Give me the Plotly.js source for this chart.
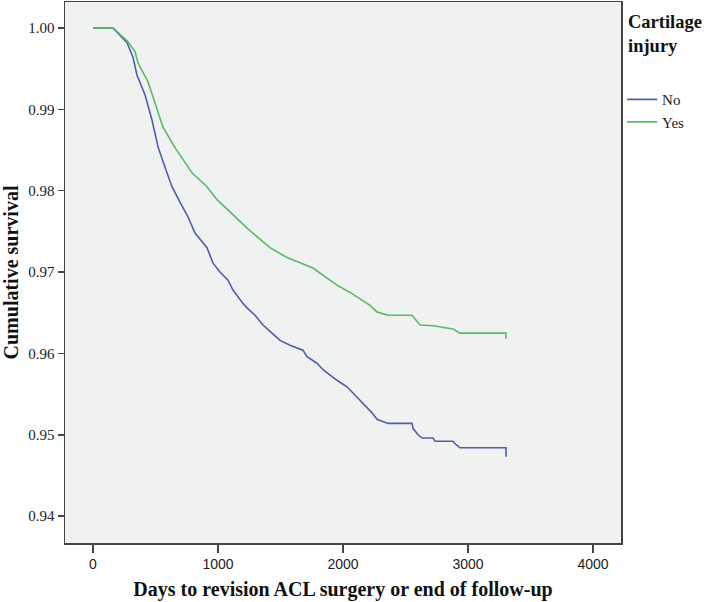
<!DOCTYPE html>
<html>
<head>
<meta charset="utf-8">
<script src="https://cdn.plot.ly/plotly-3.0.1.min.js"></script>
<style>
  body { margin: 0; background: #fff; }
  #km { width: 708px; height: 602px; }
</style>
</head>
<body>
<div id="km"></div>
<script>
// Kaplan-Meier curves, values
var daysNo = [0, 160, 272, 320, 352, 416, 472, 520, 576, 632, 696, 760, 816, 912, 960,
  1016, 1080, 1120, 1192, 1232, 1296, 1360, 1432, 1496, 1576, 1680, 1712, 1792, 1840, 1952,
  2032, 2136, 2192, 2232, 2272, 2360, 2552, 2560, 2600, 2632, 2720, 2736, 2880, 2896, 2936,
  3304, 3304];
var survNo = [1, 1, 0.9982, 0.9964, 0.9942, 0.9918, 0.9887, 0.9854, 0.9829, 0.9805, 0.9786, 0.9768, 0.9748, 0.9730, 0.9711,
  0.9700, 0.9690, 0.9678, 0.9663, 0.9656, 0.9647, 0.9635, 0.9625, 0.9616, 0.9610, 0.9604, 0.9596, 0.9588, 0.9580, 0.9567,
  0.9559, 0.9543, 0.9534, 0.9527, 0.9519, 0.9514, 0.9514, 0.9508, 0.9500, 0.9496, 0.9496, 0.9492, 0.9492, 0.9489, 0.9484,
  0.9484, 0.9473];

var daysYes = [0, 152, 176, 280, 336, 360, 440, 496, 560, 656, 792, 912, 992, 1096, 1232,
  1416, 1552, 1760, 1856, 1952, 2056, 2216, 2272, 2360, 2552, 2616, 2720, 2880, 2936, 3304, 3304];
var survYes = [1, 1, 0.9998, 0.9983, 0.9971, 0.9957, 0.9934, 0.9908, 0.9878, 0.9853, 0.9822, 0.9805, 0.9789, 0.9774, 0.9754,
  0.9730, 0.9718, 0.9705, 0.9694, 0.9684, 0.9675, 0.9659, 0.9651, 0.9647, 0.9647, 0.9635, 0.9634, 0.9630, 0.9625, 0.9625, 0.9618];

var xTicks = [0, 1000, 2000, 3000, 4000];
var yTicks = [0.94, 0.95, 0.96, 0.97, 0.98, 0.99, 1.00];
var yTickText = yTicks.map(function (v) { return v.toFixed(2); });

var serif = 'Liberation Serif, Times New Roman, serif';
var sans = 'Liberation Sans, Arial, sans-serif';

var data = [
  {
    x: daysNo, y: survNo, name: 'No', type: 'scatter', mode: 'lines',
    line: {color: '#4f5fab', width: 1.6}
  },
  {
    x: daysYes, y: survYes, name: 'Yes', type: 'scatter', mode: 'lines',
    line: {color: '#5ab964', width: 1.6}
  }
];

var layout = {
  width: 708, height: 602,
  margin: {l: 65, r: 87, t: 2, b: 59},
  paper_bgcolor: '#ffffff',
  plot_bgcolor: '#f0f1f1',
  showlegend: true,
  legend: {
    x: 1.002, xanchor: 'left', y: 0.85, yanchor: 'top',
    font: {family: serif, size: 15, color: '#222'},
    bgcolor: 'rgba(0,0,0,0)', tracegroupgap: 0
  },
  xaxis: {
    range: [-224, 4224],
    tickvals: xTicks,
    ticks: 'outside', ticklen: 8, tickwidth: 1.5, tickcolor: '#444',
    tickfont: {family: sans, size: 14, color: '#222'},
    showgrid: false, zeroline: false,
    showline: true, linecolor: '#444', linewidth: 1.5, mirror: true,
    title: {text: '<b>Days to revision ACL surgery or end of follow-up</b>',
      font: {family: serif, size: 20, color: '#111'}, standoff: 10}
  },
  yaxis: {
    range: [0.9367, 1.0032],
    tickvals: yTicks, ticktext: yTickText,
    ticks: 'outside', ticklen: 6, tickwidth: 1.5, tickcolor: '#444',
    tickfont: {family: serif, size: 15, color: '#222'},
    showgrid: false, zeroline: false,
    showline: true, linecolor: '#444', linewidth: 1.5, mirror: true,
    title: {text: '<b>Cumulative survival</b>',
      font: {family: serif, size: 20, color: '#111'}, standoff: 6}
  },
  annotations: [{
    xref: 'paper', yref: 'paper', x: 1.009, y: 0.985,
    xanchor: 'left', yanchor: 'top', align: 'left', showarrow: false,
    text: '<b>Cartilage<br>injury</b>',
    font: {family: serif, size: 18.5, color: '#111'}
  }]
};

Plotly.newPlot('km', data, layout, {displayModeBar: false, staticPlot: true});
</script>
</body>
</html>
